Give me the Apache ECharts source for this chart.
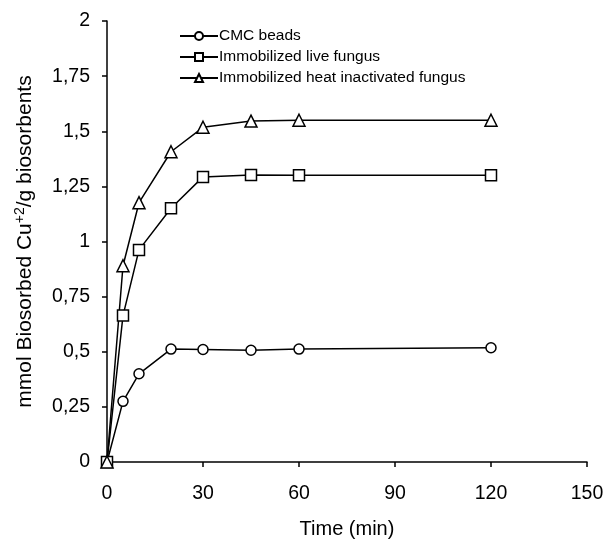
<!DOCTYPE html>
<html>
<head>
<meta charset="utf-8">
<script src="https://cdn.jsdelivr.net/npm/echarts@6/dist/echarts.min.js"></script>
<style>html,body{margin:0;padding:0;background:#fff;}#c{width:605px;height:540px;}</style>
</head>
<body>
<div id="c"></div>
<script>
const times = [0, 5, 10, 20, 30, 45, 60, 120];
const cmcBeads = [0, 0.275, 0.40, 0.512, 0.51, 0.507, 0.512, 0.518];
const liveFungus = [0, 0.664, 0.962, 1.151, 1.293, 1.302, 1.30, 1.30];
const heatFungus = [0, 0.89, 1.176, 1.407, 1.518, 1.546, 1.55, 1.55];
const seriesNames = ['CMC beads', 'Immobilized live fungus', 'Immobilized heat inactivated fungus'];
const xTicks = [0, 30, 60, 90, 120, 150];
const yTicks = [0, 0.25, 0.5, 0.75, 1, 1.25, 1.5, 1.75, 2];

const font = 'Liberation Sans, Arial, sans-serif';
function pairs(vals) { return times.map((t, i) => [t, vals[i]]); }
function mk(name, vals, symbol, size) {
  return {
    name: name, type: 'line', data: pairs(vals), symbol: symbol, symbolSize: size,
    lineStyle: { color: '#000', width: 1.5 },
    itemStyle: { color: '#fff', borderColor: '#000', borderWidth: 1.5 },
    animation: false
  };
}
const chart = echarts.init(document.getElementById('c'));
chart.setOption({
  backgroundColor: '#fff',
  animation: false,
  grid: { left: 107, right: 18, top: 21, bottom: 78, containLabel: false, outerBoundsMode: 'none' },
  legend: {
    orient: 'vertical', left: 174, top: 23, itemWidth: 38, itemHeight: 10, itemGap: 5,
    textStyle: { fontFamily: font, fontSize: 15.5, color: '#000', padding: [0, 0, 0, -4] },
    data: seriesNames
  },
  xAxis: {
    type: 'value', min: 0, max: 150, interval: 30,
    name: 'Time (min)', nameLocation: 'middle', nameGap: 57,
    nameTextStyle: { fontFamily: font, fontSize: 20, color: '#000' },
    axisLine: { lineStyle: { color: '#000', width: 1.5 } },
    axisTick: { show: true, length: 5, lineStyle: { color: '#000', width: 1.5 } },
    axisLabel: { fontFamily: font, fontSize: 19.5, color: '#000', margin: 22,
      formatter: v => xTicks.includes(v) ? String(v) : '' },
    splitLine: { show: false }
  },
  yAxis: {
    type: 'value', min: 0, max: 2, interval: 0.25,
    name: '{a|mmol Biosorbed Cu}{s|+2}{a|/g biosorbents}', nameLocation: 'middle', nameGap: 70, nameRotate: 90,
    nameTextStyle: { fontFamily: font, fontSize: 21, color: '#000',
      rich: {
        a: { fontFamily: font, fontSize: 21, color: '#000', lineHeight: 24 },
        s: { fontFamily: font, fontSize: 14, color: '#000', lineHeight: 24, verticalAlign: 'top', padding: [0, 0, 10, 0] }
      } },
    axisLine: { show: true, lineStyle: { color: '#000', width: 1.5 } },
    axisTick: { show: true, length: 5, lineStyle: { color: '#000', width: 1.5 } },
    axisLabel: { fontFamily: font, fontSize: 19.5, color: '#000', margin: 17,
      formatter: v => yTicks.includes(v) ? String(v).replace('.', ',') : '' },
    splitLine: { show: false }
  },
  series: [
    mk(seriesNames[0], cmcBeads, 'circle', 10),
    mk(seriesNames[1], liveFungus, 'rect', 11),
    mk(seriesNames[2], heatFungus, 'triangle', 12)
  ]
});
</script>
</body>
</html>
